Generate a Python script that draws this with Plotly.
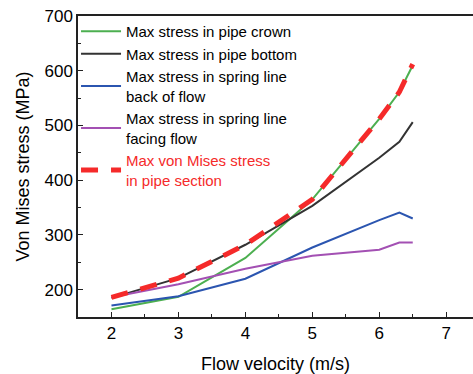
import plotly.graph_objects as go

# Flow velocity (m/s) sample points
velocity = [2, 3, 4, 5, 6, 6.3, 6.5]

# Von Mises stress (MPa) at each location
crown = [164, 187, 258, 365, 512, 561, 610]
bottom = [185, 221, 282, 353, 441, 470, 506]
spring_back = [171, 188, 220, 277, 327, 341, 330]
spring_facing = [186, 210, 238, 262, 273, 286, 286]
section_max = [186, 221, 282, 365, 512, 561, 612]

x_ticks = [2, 3, 4, 5, 6, 7]
y_ticks = [200, 300, 400, 500, 600, 700]

RED = "#f52a2a"

fig = go.Figure()
fig.add_trace(go.Scatter(x=velocity, y=crown, mode="lines",
                         name="Max stress in pipe crown",
                         line=dict(color="#4caf50", width=2)))
fig.add_trace(go.Scatter(x=velocity, y=bottom, mode="lines",
                         name="Max stress in pipe bottom",
                         line=dict(color="#333333", width=2)))
fig.add_trace(go.Scatter(x=velocity, y=spring_back, mode="lines",
                         name="Max stress in spring line<br>back of flow",
                         line=dict(color="#2b55b0", width=2)))
fig.add_trace(go.Scatter(x=velocity, y=spring_facing, mode="lines",
                         name="Max stress in spring line<br>facing flow",
                         line=dict(color="#a350b3", width=2)))
fig.add_trace(go.Scatter(x=velocity, y=section_max, mode="lines",
                         name=(f"<span style='color:{RED}'>Max von Mises stress</span><br>"
                               f"<span style='color:{RED}'>in pipe section</span>"),
                         line=dict(color=RED, width=5, dash="17px,13px")))

font_family = "Arial, Liberation Sans, sans-serif"

fig.update_layout(
    width=473, height=374,
    margin=dict(l=78, r=0, t=16, b=57),
    paper_bgcolor="white", plot_bgcolor="white",
    font=dict(family=font_family, color="black", size=17),
    hovermode=False,
    showlegend=True,
    legend=dict(x=-0.005, y=1.003, xanchor="left", yanchor="top",
                font=dict(size=15, family=font_family),
                bgcolor="rgba(0,0,0,0)", tracegroupgap=0,
                itemwidth=40),
    xaxis=dict(range=[1.5, 7.4], tickvals=x_ticks, showgrid=False, zeroline=False,
               showline=True, linecolor="#222", linewidth=1.5, mirror=True,
               ticks="inside", ticklen=5, tickcolor="#222",
               minor=dict(ticks="inside", dtick=0.5, ticklen=3, tickcolor="#222"),
               tickfont=dict(size=17),
               title=dict(text="Flow velocity (m/s)", font=dict(size=18), standoff=18)),
    yaxis=dict(range=[150, 700], tickvals=y_ticks, showgrid=False, zeroline=False,
               showline=True, linecolor="#222", linewidth=1.5,
               ticks="inside", ticklen=5, tickcolor="#222",
               minor=dict(ticks="inside", dtick=50, ticklen=3, tickcolor="#222"),
               tickfont=dict(size=17),
               title=dict(text="Von Mises stress (MPa)", font=dict(size=18), standoff=10)),
)

fig.write_html("out.html")
